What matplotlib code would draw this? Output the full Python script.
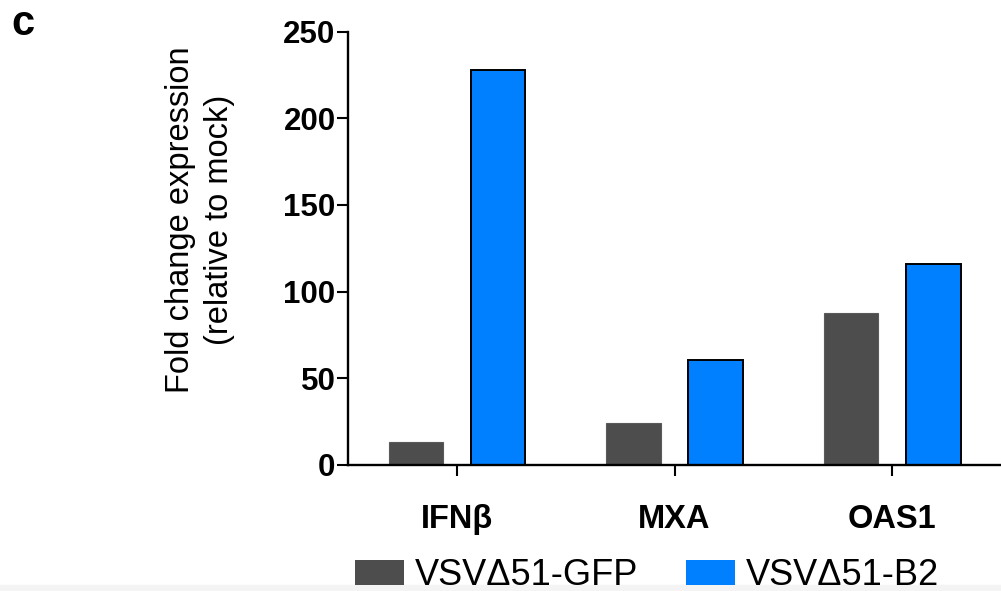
import numpy as np
import matplotlib
matplotlib.use("Agg")
import matplotlib.pyplot as plt
from matplotlib.patches import Patch

plt.rcParams["font.family"] = ["Liberation Sans", "DejaVu Sans"]

genes = ["IFNβ", "MXA", "OAS1"]
gfp_values = [13, 24, 87.5]
b2_values = [228, 60.5, 116]
series_names = ["VSVΔ51-GFP", "VSVΔ51-B2"]
y_ticks = [0, 50, 100, 150, 200, 250]

GRAY = "#4d4d4d"
BLUE = "#0080ff"

fig = plt.figure(figsize=(10.01, 5.91), dpi=100)
ax = fig.add_axes([0.3477, 0.2132, 0.6523, 0.7335])

x = np.arange(len(genes))
offset = 0.189
width = 0.25
ax.bar(x - offset, gfp_values, width, color=GRAY, edgecolor="#5a5a5a",
       linewidth=0.8, zorder=2)
ax.bar(x + offset, b2_values, width, color=BLUE, edgecolor="black",
       linewidth=1.4, zorder=2)

ax.set_xlim(-0.5, 2.5)
ax.set_ylim(0, 250)
ax.set_yticks(y_ticks)
ax.set_yticklabels([str(t) for t in y_ticks], fontsize=22.5, fontweight="bold")
ax.set_xticks(x)
ax.set_xticklabels(genes, fontsize=23.5, fontweight="bold")

for side in ["top", "right"]:
    ax.spines[side].set_visible(False)
for side in ["left", "bottom"]:
    ax.spines[side].set_linewidth(1.7)
ax.tick_params(axis="both", direction="out", length=8, width=1.5)
ax.tick_params(axis="x", pad=20)
ax.tick_params(axis="y", pad=1)

# y label placed by hand, it sits above the axes centre
fig.text(200 / 1001, 1 - 220 / 591,
         "Fold change expression\n(relative to mock)", fontsize=23.5,
         rotation=90, ha="center", va="center", linespacing=1.3,
         multialignment="center")

fig.text(0.011, 0.993, "c", fontsize=30, fontweight="bold", va="top")

# light strip along the bottom edge
fig.patches.append(plt.Rectangle((0, 0), 1, 6 / 591, transform=fig.transFigure,
                                 color="#f4f4f4", zorder=0))

handles = [Patch(facecolor=GRAY, edgecolor="none"),
           Patch(facecolor=BLUE, edgecolor="none")]
fig.legend(handles, series_names, loc="lower left",
           bbox_to_anchor=(0.322, -0.058), ncol=2, frameon=False,
           fontsize=26, handlelength=1.35, handleheight=0.7,
           handletextpad=0.3, columnspacing=1.33)

fig.savefig("out.png", dpi=100)
